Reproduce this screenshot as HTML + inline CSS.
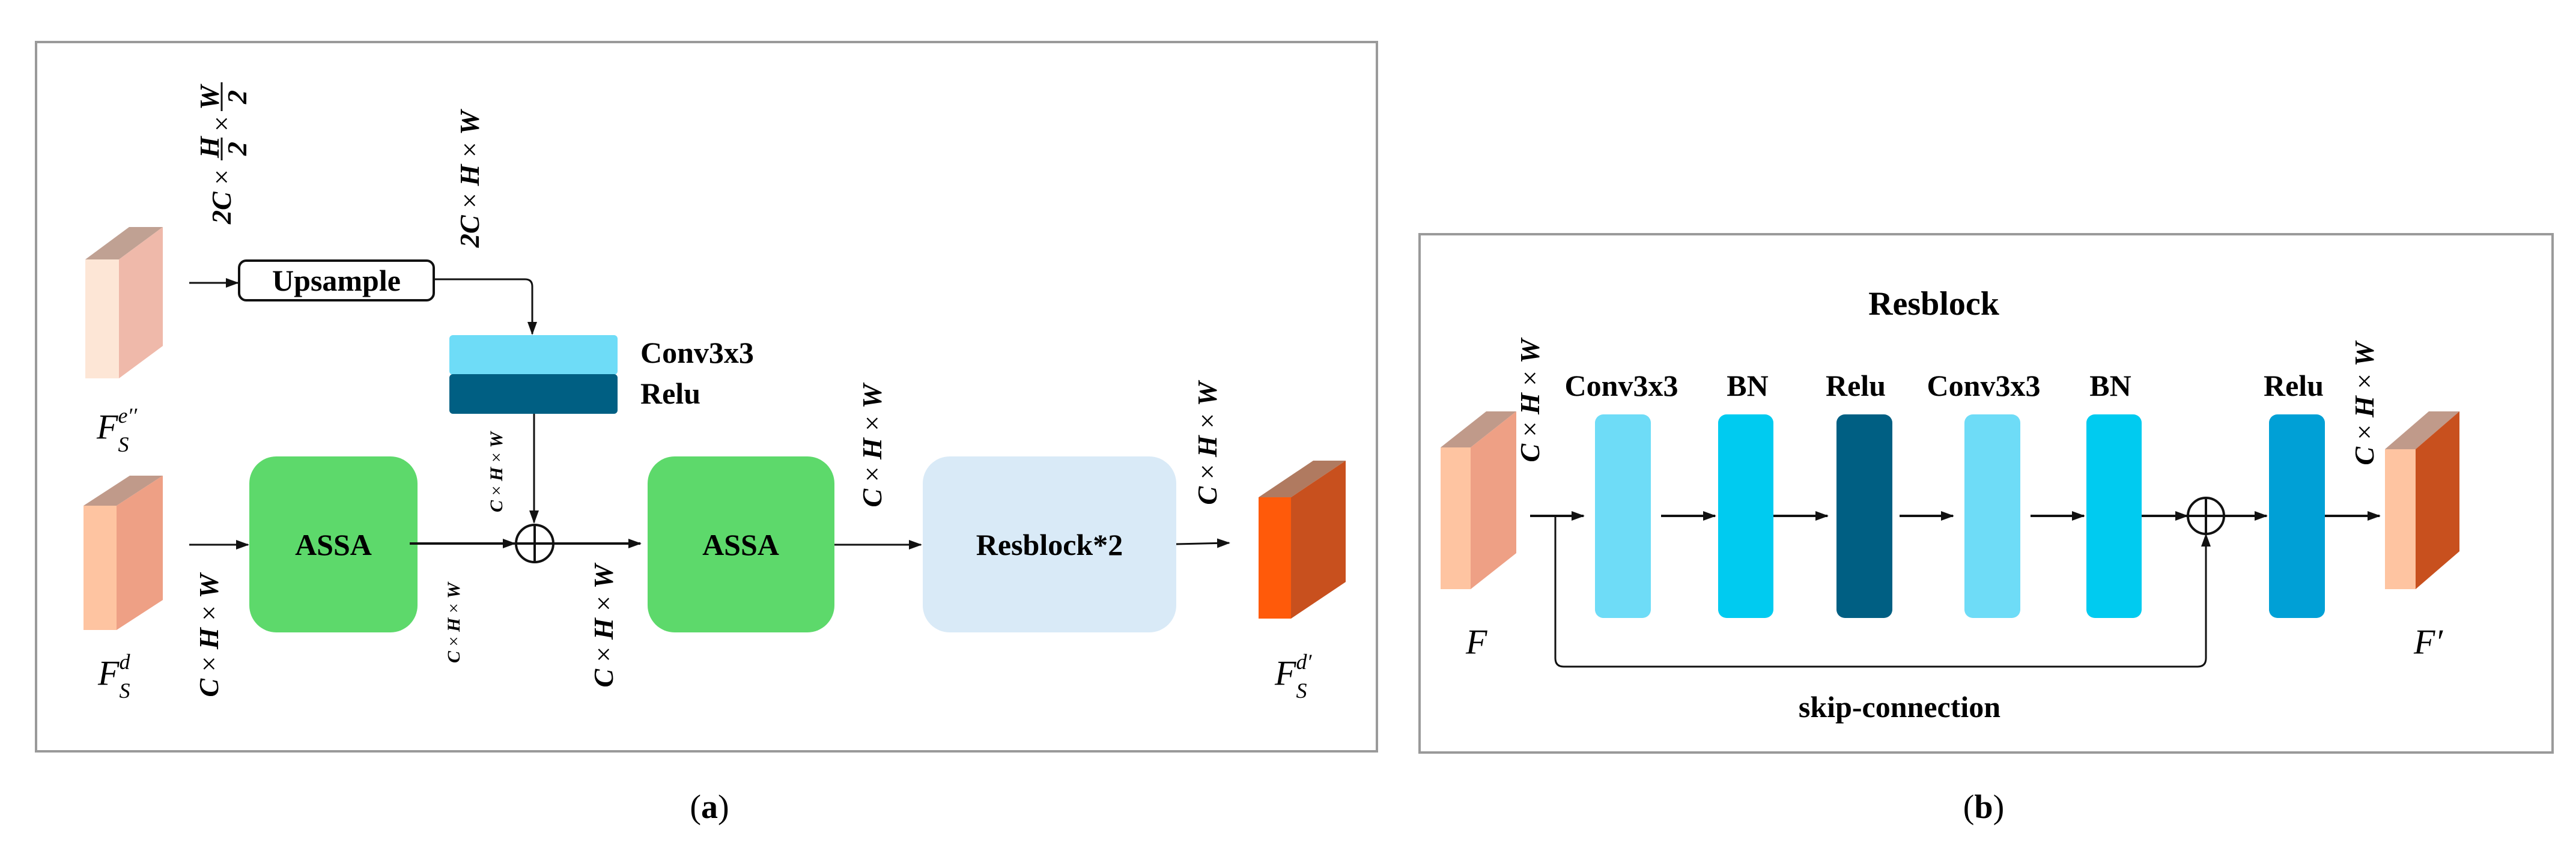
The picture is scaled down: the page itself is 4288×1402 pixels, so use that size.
<!DOCTYPE html>
<html><head><meta charset="utf-8"><style>
html,body{margin:0;padding:0;background:#fff}
svg{display:block}
text{font-family:"Liberation Serif","DejaVu Serif",serif}
.b{font-weight:bold;font-size:50px}
.m{font-weight:bold;font-style:italic;font-size:46px}
.ms{font-weight:bold;font-style:italic;font-size:30px}
.x{font-weight:normal;font-style:normal}
.f{font-style:italic;font-size:58px}
.sup{font-size:36px}
</style></head><body>
<svg width="4288" height="1402" viewBox="0 0 4288 1402" xmlns="http://www.w3.org/2000/svg">
<defs>
<marker id="ar2" markerWidth="22" markerHeight="16" refX="20" refY="8" orient="auto" markerUnits="userSpaceOnUse" viewBox="0 0 22 16">
<path d="M0,0 L22,8 L0,16 z" fill="#111"/></marker>
</defs>

<rect x="60" y="70" width="2232" height="1181" fill="#fff" stroke="#9a9a9a" stroke-width="4"/>

<polygon points="142,432 198,432 271,378 215,378" fill="#c0a193"/>
<polygon points="198,432 271,378 271,576 198,630" fill="#efb9aa"/>
<rect x="142" y="432" width="56" height="198" fill="#fde6d6"/>
<text class="f" x="161" y="730">F<tspan class="sup" dy="22">S</tspan><tspan class="sup" dx="-18" dy="-48">e′′</tspan></text>

<polygon points="139,842 194,842 271,792 216,792" fill="#c09a8a"/>
<polygon points="194,842 271,792 271,999 194,1049" fill="#eea085"/>
<rect x="139" y="842" width="55" height="207" fill="#fec4a1"/>
<text class="f" x="163" y="1140">F<tspan class="sup" dy="22">S</tspan><tspan class="sup" dx="-18" dy="-48">d</tspan></text>

<polygon points="2095,828 2149,828 2240,767 2186,767" fill="#b07a60"/>
<polygon points="2149,828 2240,767 2240,969 2149,1030" fill="#c8501e"/>
<rect x="2095" y="828" width="54" height="202" fill="#ff5a0a"/>
<text class="f" x="2122" y="1140">F<tspan class="sup" dy="22">S</tspan><tspan class="sup" dx="-18" dy="-48">d′</tspan></text>

<line x1="315" y1="471" x2="396" y2="471" stroke="#111" stroke-width="3" marker-end="url(#ar2)"/>
<rect x="398" y="434" width="324" height="66" rx="12" fill="#fff" stroke="#111" stroke-width="4"/>
<text class="b" x="560" y="484" text-anchor="middle">Upsample</text>
<path d="M722,465 H874 Q886,465 886,477 V556" fill="none" stroke="#111" stroke-width="3" marker-end="url(#ar2)"/>

<rect x="748" y="558" width="280" height="66" rx="6" fill="#6edcf7"/>
<rect x="748" y="623" width="280" height="66" rx="6" fill="#005f83"/>
<text class="b" x="1066" y="604">Conv3x3</text>
<text class="b" x="1066" y="672">Relu</text>
<line x1="889" y1="689" x2="889" y2="870" stroke="#111" stroke-width="3" marker-end="url(#ar2)"/>

<circle cx="890" cy="905" r="31" fill="#fff" stroke="#111" stroke-width="4"/>
<line x1="859" y1="905" x2="921" y2="905" stroke="#111" stroke-width="4"/>
<line x1="890" y1="874" x2="890" y2="936" stroke="#111" stroke-width="4"/>

<line x1="315" y1="907" x2="413" y2="907" stroke="#111" stroke-width="3" marker-end="url(#ar2)"/>
<rect x="415" y="760" width="280" height="293" rx="45" fill="#5dd96b"/>
<text class="b" x="555" y="924" text-anchor="middle">ASSA</text>
<line x1="682" y1="905" x2="857" y2="905" stroke="#111" stroke-width="4" marker-end="url(#ar2)"/>
<line x1="921" y1="905" x2="1066" y2="905" stroke="#111" stroke-width="4" marker-end="url(#ar2)"/>
<rect x="1078" y="760" width="311" height="293" rx="45" fill="#5dd96b"/>
<text class="b" x="1233" y="924" text-anchor="middle">ASSA</text>
<line x1="1389" y1="907" x2="1533" y2="907" stroke="#111" stroke-width="3" marker-end="url(#ar2)"/>
<rect x="1536" y="760" width="422" height="293" rx="45" fill="#d9eaf7"/>
<text class="b" x="1747" y="924" text-anchor="middle">Resblock*2</text>
<line x1="1958" y1="906" x2="2046" y2="904" stroke="#111" stroke-width="3" marker-end="url(#ar2)"/>

<g transform="translate(369,245) rotate(-90)">
<text class="m" x="-128" y="0" dy="15">2C<tspan class="x"> × </tspan></text>
<text class="m" x="-18" y="-20" dy="15">H</text>
<line x1="-22" y1="0" x2="16" y2="0" stroke="#111" stroke-width="3"/>
<text class="m" x="-14" y="26" dy="15">2</text>
<text class="m x" x="26" y="0" dy="15">×</text>
<text class="m" x="62" y="-20" dy="15">W</text>
<line x1="60" y1="0" x2="108" y2="0" stroke="#111" stroke-width="3"/>
<text class="m" x="72" y="26" dy="15">2</text>
</g>
<text class="m" transform="translate(797,298) rotate(-90)" text-anchor="middle">2C<tspan class="x"> × </tspan>H<tspan class="x"> × </tspan>W</text>
<text class="ms" transform="translate(836,786) rotate(-90)" text-anchor="middle">C<tspan class="x"> × </tspan>H<tspan class="x"> × </tspan>W</text>
<text class="m" transform="translate(363,1058) rotate(-90)" text-anchor="middle">C<tspan class="x"> × </tspan>H<tspan class="x"> × </tspan>W</text>
<text class="ms" transform="translate(765,1037) rotate(-90)" text-anchor="middle">C<tspan class="x"> × </tspan>H<tspan class="x"> × </tspan>W</text>
<text class="m" transform="translate(1020,1042) rotate(-90)" text-anchor="middle">C<tspan class="x"> × </tspan>H<tspan class="x"> × </tspan>W</text>
<text class="m" transform="translate(1467,742) rotate(-90)" text-anchor="middle">C<tspan class="x"> × </tspan>H<tspan class="x"> × </tspan>W</text>
<text class="m" transform="translate(2025,738) rotate(-90)" text-anchor="middle">C<tspan class="x"> × </tspan>H<tspan class="x"> × </tspan>W</text>

<text x="1181" y="1362" text-anchor="middle" style="font-size:56px">(<tspan font-weight="bold">a</tspan>)</text>

<rect x="2363" y="390" width="1886" height="863" fill="#fff" stroke="#9a9a9a" stroke-width="4"/>
<text class="b" x="3219" y="524" text-anchor="middle" style="font-size:56px">Resblock</text>

<polygon points="2398,745 2448,745 2524,685 2474,685" fill="#c09a8a"/>
<polygon points="2448,745 2524,685 2524,921 2448,981" fill="#eea085"/>
<rect x="2398" y="745" width="50" height="236" fill="#fec4a1"/>
<text class="f" x="2440" y="1088">F</text>

<polygon points="3970,748 4021,748 4094,685 4043,685" fill="#c09a8a"/>
<polygon points="4021,748 4094,685 4094,918 4021,981" fill="#c8501e"/>
<rect x="3970" y="748" width="51" height="233" fill="#fec4a1"/>
<text class="f" x="4018" y="1088">F′</text>

<text class="m" transform="translate(2562,667) rotate(-90)" text-anchor="middle">C<tspan class="x"> × </tspan>H<tspan class="x"> × </tspan>W</text>
<text class="m" transform="translate(3951,672) rotate(-90)" text-anchor="middle">C<tspan class="x"> × </tspan>H<tspan class="x"> × </tspan>W</text>

<rect x="2655" y="690" width="93" height="339" rx="14" fill="#6edcf7"/>
<rect x="2860" y="690" width="92" height="339" rx="14" fill="#00cbf0"/>
<rect x="3057" y="690" width="93" height="339" rx="14" fill="#005f83"/>
<rect x="3270" y="690" width="93" height="339" rx="14" fill="#6edcf7"/>
<rect x="3473" y="690" width="92" height="339" rx="14" fill="#00cbf0"/>
<rect x="3777" y="690" width="93" height="339" rx="14" fill="#00a0d6"/>
<text class="b" x="2699" y="659" text-anchor="middle">Conv3x3</text>
<text class="b" x="2909" y="659" text-anchor="middle">BN</text>
<text class="b" x="3089" y="659" text-anchor="middle">Relu</text>
<text class="b" x="3302" y="659" text-anchor="middle">Conv3x3</text>
<text class="b" x="3513" y="659" text-anchor="middle">BN</text>
<text class="b" x="3818" y="659" text-anchor="middle">Relu</text>

<g stroke="#111" stroke-width="4" fill="none">
<line x1="2547" y1="859" x2="2636" y2="859" marker-end="url(#ar2)"/>
<line x1="2765" y1="859" x2="2855" y2="859" marker-end="url(#ar2)"/>
<line x1="2952" y1="859" x2="3042" y2="859" marker-end="url(#ar2)"/>
<line x1="3162" y1="859" x2="3251" y2="859" marker-end="url(#ar2)"/>
<line x1="3380" y1="859" x2="3469" y2="859" marker-end="url(#ar2)"/>
<line x1="3565" y1="859" x2="3641" y2="859" marker-end="url(#ar2)"/>
<line x1="3701" y1="859" x2="3773" y2="859" marker-end="url(#ar2)"/>
<line x1="3870" y1="859" x2="3961" y2="859" marker-end="url(#ar2)"/>
<path d="M2589,859 V1096 Q2589,1110 2603,1110 H3658 Q3672,1110 3672,1096 V890" stroke-width="3" marker-end="url(#ar2)"/>
<circle cx="3672" cy="859" r="30" fill="#fff"/>
<line x1="3642" y1="859" x2="3702" y2="859"/>
<line x1="3672" y1="829" x2="3672" y2="889"/>
</g>
<text class="b" x="3162" y="1194" text-anchor="middle">skip-connection</text>

<text x="3302" y="1362" text-anchor="middle" style="font-size:56px">(<tspan font-weight="bold">b</tspan>)</text>
</svg>
</body></html>
